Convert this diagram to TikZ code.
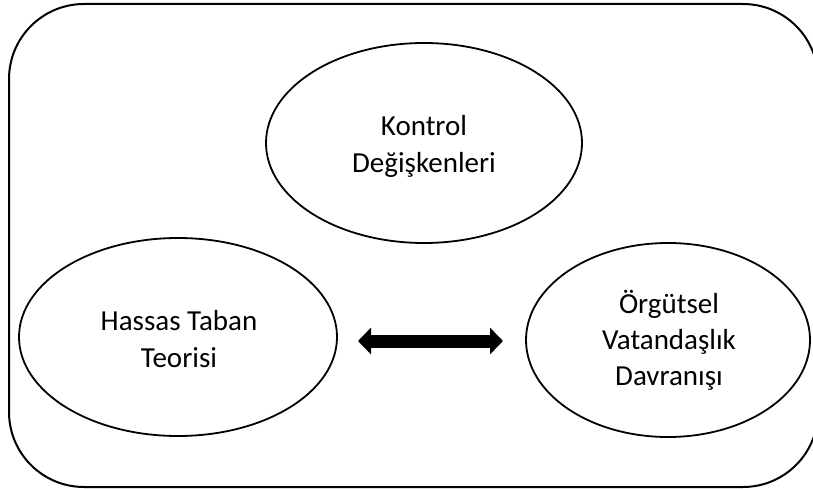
\documentclass[tikz,border=0pt]{standalone}
\usepackage{fontspec}
\setmainfont{Carlito}
\usetikzlibrary{shapes.geometric,arrows.meta}
\begin{document}
\begin{tikzpicture}[x=1pt,y=-1pt,
  oval/.style={draw=black,line width=1.8pt,ellipse,inner sep=0pt},
  lbl/.style={anchor=base,inner sep=0pt,font=\fontsize{29}{36}\selectfont},
  frame/.style={draw=black,line width=2pt,rounded corners=75pt},
  bigarrow/.style={line width=13pt,{Triangle[length=13pt,width=26pt]}-{Triangle[length=13pt,width=26pt]}}]
\useasboundingbox (0,0) rectangle (813,489);
\clip (0,0) rectangle (813,489);
\fill[white] (0,0) rectangle (813,489);
\draw[frame] (9,4) rectangle (818,487);
% ellipses
\node[oval,minimum width=316pt,minimum height=200pt] (top) at (424,143) {};
\node[oval,minimum width=318pt,minimum height=198pt] (left) at (178,337) {};
\node[oval,minimum width=284pt,minimum height=194pt] (right) at (668,340) {};
% texts
\node[lbl] (t1) at (424,136) {Kontrol};
\node[lbl] (t2) at (424,172) {Değişkenleri};
\node[lbl] (l1) at (179,330) {Hassas Taban};
\node[lbl] (l2) at (179,367) {Teorisi};
\node[lbl] (r1) at (669,313) {Örgütsel};
\node[lbl] (r2) at (669,349) {Vatandaşlık};
\node[lbl] (r3) at (669,385) {Davranışı};
% arrow
\coordinate (a1) at (358,341);
\coordinate (a2) at (503,341);
\draw[bigarrow] (a1) -- (a2);
\end{tikzpicture}
\end{document}
